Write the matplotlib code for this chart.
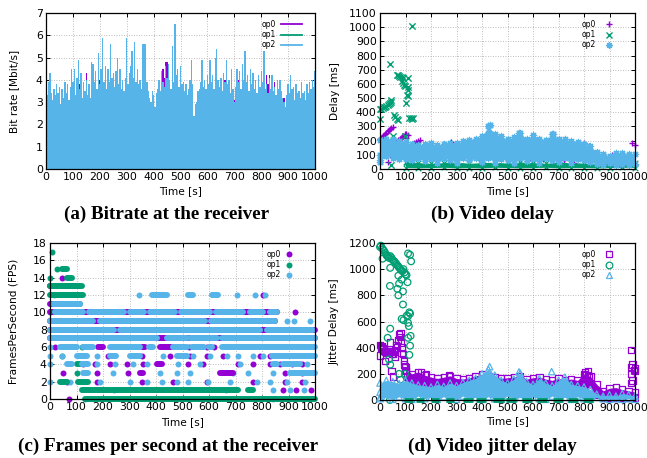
import numpy as np
import matplotlib.pyplot as plt
from matplotlib.lines import Line2D

C0, C1, C2 = '#9400D3', '#009E73', '#56B4E9'
GRID = '#a8a8a8'

# ---------------- (a) bit rate, one sample every 5 s ----------------
rate_step = 5
rate_op2 = [4.0, 3.3, 3.9, 4.3, 3.4, 3.1, 3.6, 3.3, 3.8, 3.4,
            3.7, 2.9, 3.6, 3.2, 3.9, 3.4, 3.8, 3.1, 3.7, 4.5,
            3.9, 4.5, 3.3, 4.1, 4.9, 3.6, 4.3, 3.2, 3.9, 3.5,
            4.0, 3.3, 3.8, 3.2, 4.8, 4.7, 3.9, 4.4, 3.6, 5.2,
            3.8, 4.5, 5.9, 3.9, 4.6, 3.6, 4.5, 3.9, 5.6, 4.1,
            4.3, 3.7, 4.4, 5.0, 3.8, 4.5, 3.6, 4.0, 3.5, 4.1,
            5.9, 3.8, 4.3, 4.6, 5.3, 4.1, 5.7, 3.9, 4.5, 3.8,
            4.0, 3.6, 5.6, 5.6, 5.6, 3.9, 3.5, 3.2, 3.0, 3.5,
            3.3, 2.8, 3.4, 3.6, 4.0, 3.5, 4.4, 3.9, 3.7, 4.6,
            4.1, 4.7, 4.0, 3.6, 5.5, 3.9, 6.5, 4.2, 4.5, 3.7,
            4.6, 3.8, 3.9, 3.5, 3.8, 3.3, 3.6, 4.0, 4.9, 3.8,
            2.4, 2.9, 3.0, 3.5, 3.6, 3.9, 4.9, 3.7, 4.0, 3.6,
            4.2, 3.8, 4.9, 3.9, 4.2, 3.6, 5.0, 5.4, 4.0, 3.7,
            4.1, 3.5, 4.3, 3.9, 4.9, 3.8, 4.0, 3.4, 4.5, 3.6,
            3.0, 3.7, 4.5, 3.9, 4.4, 3.6, 4.7, 4.0, 5.3, 3.9,
            4.2, 3.5, 4.5, 3.8, 4.3, 3.6, 4.0, 3.4, 4.2, 3.7,
            4.4, 3.9, 5.3, 3.6, 3.8, 3.4, 4.1, 3.6, 4.2, 3.5,
            3.7, 3.3, 4.0, 3.6, 4.0, 3.5, 3.2, 3.0, 2.8, 3.3,
            3.8, 3.4, 4.2, 3.6, 3.7, 3.1, 3.8, 3.4, 3.5, 3.2,
            3.9, 3.4, 3.5, 3.1, 3.8, 3.4, 3.9, 3.6, 4.0, 3.7,
            4.4]
rate_op0 = [3.5, 3.2, 3.6, 3.9, 3.3, 3.0, 3.4, 3.2, 3.5, 3.3,
            3.4, 2.9, 3.5, 3.1, 3.9, 3.3, 3.6, 3.0, 3.5, 4.0,
            3.6, 4.0, 3.2, 3.9, 4.2, 3.8, 4.0, 3.2, 3.7, 3.4,
            4.3, 3.2, 3.5, 3.1, 4.2, 4.0, 3.7, 4.0, 3.5, 4.5,
            4.0, 4.0, 4.8, 3.8, 4.2, 3.4, 4.0, 3.7, 4.9, 3.9,
            4.0, 3.5, 4.1, 4.4, 3.6, 4.2, 3.4, 3.8, 3.3, 3.9,
            5.0, 3.6, 4.0, 4.2, 4.6, 4.0, 4.8, 3.7, 4.2, 3.6,
            3.8, 3.4, 4.8, 4.5, 4.6, 3.7, 3.4, 3.0, 2.9, 3.3,
            3.1, 2.7, 3.2, 3.4, 3.8, 3.4, 4.1, 4.5, 4.1, 4.8,
            4.8, 4.5, 3.9, 3.4, 4.6, 3.7, 5.0, 3.9, 4.0, 3.5,
            4.2, 3.6, 3.7, 3.3, 3.6, 3.2, 3.4, 3.8, 4.3, 3.6,
            2.3, 2.7, 2.9, 3.3, 3.4, 3.7, 4.2, 3.5, 3.8, 3.4,
            3.9, 3.6, 4.3, 3.7, 4.0, 3.4, 4.3, 4.6, 3.8, 3.5,
            3.9, 3.4, 4.1, 4.0, 4.3, 3.6, 3.8, 3.3, 4.0, 3.5,
            3.1, 3.5, 4.1, 4.0, 4.0, 3.4, 4.2, 3.8, 4.5, 3.7,
            4.0, 3.3, 4.5, 3.6, 4.0, 3.4, 3.8, 3.3, 3.9, 3.5,
            4.0, 3.7, 4.5, 3.4, 4.2, 3.8, 4.2, 3.4, 4.1, 3.3,
            3.9, 3.2, 3.8, 3.4, 3.7, 3.3, 3.0, 3.2, 2.6, 2.3,
            3.5, 3.2, 3.9, 3.4, 3.5, 2.9, 3.6, 3.2, 3.3, 3.0,
            3.7, 3.2, 3.0, 2.9, 3.6, 3.2, 3.7, 3.4, 3.8, 3.5,
            4.0]
rate_op1_step = 10
rate_op1 = [3.0, 2.8, 3.1, 2.9, 3.2, 2.7, 3.0, 2.9, 3.1, 2.8,
            3.0, 3.2, 2.9, 3.1, 2.8, 3.0, 3.3, 2.9, 3.1, 3.0,
            2.9, 3.2, 3.0, 2.8, 3.1, 2.9, 3.0, 3.2, 2.9, 3.0,
            3.1, 2.8, 3.0, 3.2, 2.9, 3.1, 2.7, 2.6, 2.8, 2.9,
            2.7, 2.8, 3.0, 3.1, 2.9, 3.2, 3.0, 2.9, 3.1, 3.0,
            3.0, 2.9, 3.1, 2.8, 3.0, 2.2, 2.7, 2.9, 3.1, 3.0,
            3.0, 3.2, 2.9, 3.1, 3.0, 2.9, 3.1, 3.0, 2.8, 3.0,
            2.7, 3.0, 3.1, 2.9, 3.2, 3.0, 2.9, 3.1, 3.0, 2.9,
            3.1, 3.0, 3.2, 2.9, 3.0, 2.8, 3.0, 2.9, 2.6, 2.5,
            2.9, 3.0, 2.8, 2.9, 3.0, 2.8, 3.0, 2.9, 3.1, 3.0,
            3.2]

# ---------------- (b) video delay ----------------
delay_op0_t = [0, 5, 10, 15, 20, 25, 30, 35, 40, 45, 50,
               72, 77, 82, 87, 92, 97, 102, 108,
               118, 125, 132, 140, 148, 155,
               190, 250, 280, 300, 340, 390, 400, 410, 420, 440,
               450, 455, 480, 560, 580, 610, 620, 640, 655, 690,
               700, 710, 720, 760, 800, 820, 880, 910, 990, 1000,
               30, 40, 100]
delay_op0_v = [215, 222, 230, 238, 245, 255, 265, 275, 285, 292, 298,
               205, 212, 220, 228, 236, 244, 250, 240,
               160, 172, 182, 192, 200, 207,
               150, 165, 190, 170, 110, 80, 120, 90, 110, 170,
               140, 60, 100, 110, 60, 125, 80, 70, 85, 80,
               80, 110, 60, 40, 180, 160, 70, 100, 180, 170,
               50, 100, 220]
delay_op1_t = [0, 5, 10, 15, 20, 25, 30, 35, 40, 45,
               0, 40, 42, 55, 60, 65, 72, 65, 70, 75, 80, 85, 92,
               85, 90, 95, 98, 111, 111, 108, 100, 124, 115, 120, 125, 131,
               52, 98, 43, 105, 105, 110]
delay_op1_v = [420, 425, 430, 435, 440, 445, 450, 455, 462, 470,
               350, 740, 490, 383, 370, 355, 348, 665, 660, 655, 650, 648, 642,
               618, 605, 595, 583, 642, 560, 513, 465, 1006, 362, 358, 355, 362,
               230, 235, 31, 47, 520, 580]
delay_op1_base_t = [100, 150, 200, 250, 300, 350, 400, 450, 500, 550,
                    600, 650, 700, 750, 800, 850, 900, 950, 1000]
delay_op1_base_hi = [50, 45, 40, 45, 50, 40, 45, 48, 42, 50,
                     45, 40, 48, 45, 42, 40, 45, 40, 45]
delay_op1_base_lo = [10, 8, 10, 12, 8, 10, 8, 12, 10, 8,
                     10, 12, 8, 10, 10, 8, 10, 12, 10]
delay_op2_t = list(range(0, 1001, 25))
delay_op2_hi = [205, 215, 210, 200, 190, 175, 170, 175, 180, 170,
                175, 180, 185, 195, 205, 215, 230, 300, 250, 230,
                210, 225, 255, 210, 240, 215, 205, 245, 215, 210,
                200, 190, 175, 160, 120, 105, 95, 110, 110, 105,
                105]
delay_op2_lo = [60, 90, 80, 70, 70, 60, 75, 55, 70, 40,
                75, 65, 45, 80, 60, 75, 50, 80, 45, 70,
                65, 40, 75, 55, 70, 40, 75, 60, 50, 75,
                45, 70, 60, 50, 35, 30, 40, 30, 35, 30,
                35]
delay_op2_extra_t = [430, 545, 680, 0, 0]
delay_op2_extra_v = [310, 255, 245, 100, 50]

# ---------------- (c) frames per second: (fps, start, end) runs ----------------
fps_op0 = [(14, 44, 44), (13, 0, 110), (12, 19, 100), (12, 802, 802), (11, 0, 100),
           (10, 0, 855), (10, 925, 925), (9, 0, 849), (8, 0, 1000), (7, 0, 1000),
           (6, 19, 19), (6, 182, 200), (6, 346, 360), (6, 415, 455), (6, 524, 524),
           (6, 591, 591), (6, 620, 620),
           (5, 220, 220), (5, 346, 346), (5, 453, 453), (5, 528, 528), (5, 591, 591),
           (5, 654, 654), (5, 792, 792), (5, 830, 830),
           (4, 126, 126), (4, 170, 170), (4, 226, 226), (4, 289, 289), (4, 352, 352),
           (4, 402, 421), (4, 522, 522), (4, 579, 579), (4, 711, 711), (4, 767, 767),
           (4, 830, 830), (4, 868, 868), (4, 912, 912), (4, 950, 950),
           (3, 50, 50), (3, 176, 176), (3, 296, 296), (3, 340, 352), (3, 641, 692),
           (3, 887, 887), (3, 950, 950),
           (2, 63, 63), (2, 176, 176), (2, 346, 346), (2, 465, 465), (2, 591, 591),
           (2, 767, 767), (2, 887, 887), (2, 950, 950),
           (1, 880, 880), (1, 930, 930), (1, 985, 985), (0, 72, 72)]
fps_op1 = [(17, 9, 9), (15, 25, 25), (15, 44, 63), (14, 0, 0), (14, 63, 82),
           (13, 0, 120), (12, 0, 126), (11, 57, 113), (10, 0, 0), (10, 20, 50),
           (6, 120, 120), (5, 44, 44), (4, 100, 113), (3, 100, 100),
           (2, 38, 63), (2, 107, 145), (1, 120, 711), (1, 748, 767), (0, 132, 1000)]
fps_op2 = [(12, 16, 16), (12, 337, 337), (12, 384, 440), (12, 522, 541), (12, 610, 635),
           (12, 707, 707), (12, 773, 773), (12, 811, 811),
           (11, 13, 113),
           (10, 19, 123), (10, 147, 278), (10, 302, 353), (10, 377, 472), (10, 496, 604),
           (10, 628, 730), (10, 754, 805), (10, 829, 855),
           (9, 0, 164), (9, 188, 585), (9, 609, 849), (9, 893, 893), (9, 921, 921), (9, 981, 981),
           (8, 0, 240), (8, 264, 793), (8, 817, 994),
           (7, 0, 402), (7, 440, 516), (7, 528, 629), (7, 650, 1000),
           (6, 0, 0), (6, 38, 101), (6, 126, 164), (6, 226, 340), (6, 372, 390),
           (6, 466, 516), (6, 535, 580), (6, 600, 610), (6, 648, 1000),
           (5, 0, 0), (5, 44, 44), (5, 100, 138), (5, 176, 176), (5, 226, 250), (5, 302, 340),
           (5, 428, 428), (5, 478, 516), (5, 541, 541), (5, 604, 604), (5, 667, 667),
           (5, 711, 711), (5, 767, 767), (5, 805, 805), (5, 836, 1000),
           (4, 0, 0), (4, 63, 82), (4, 120, 145), (4, 176, 176), (4, 245, 245), (4, 314, 314),
           (4, 365, 365), (4, 484, 484), (4, 566, 566), (4, 717, 717), (4, 843, 855),
           (4, 880, 943), (4, 968, 968),
           (3, 126, 145), (3, 239, 239), (3, 415, 415), (3, 478, 478), (3, 528, 528),
           (3, 692, 692), (3, 748, 748), (3, 843, 843), (3, 906, 1000),
           (2, 0, 0), (2, 75, 75), (2, 189, 189), (2, 302, 302), (2, 365, 365), (2, 421, 421),
           (2, 478, 478), (2, 522, 522), (2, 597, 597), (2, 679, 679), (2, 780, 780),
           (2, 830, 830), (2, 893, 893), (2, 962, 962),
           (1, 241, 241), (1, 664, 664), (1, 843, 843), (1, 906, 906), (1, 960, 960),
           (0, 132, 132), (0, 840, 840)]

# ---------------- (d) jitter delay ----------------
jit_op0_t = [0, 0, 3, 6, 10, 14, 18, 22, 26, 30, 34, 38, 42, 46, 50, 54, 58, 62, 66,
             70, 74, 78, 82, 86, 90, 94, 98, 102, 106, 110, 114, 20, 45, 50, 60, 80,
             85, 95, 100, 40, 160, 180, 270,
             805, 810, 815, 820, 985, 990, 985, 995, 985, 990, 985, 1000, 1000]
jit_op0_v = [340, 420, 400, 410, 395, 385, 375, 370, 365, 360, 370, 375, 365, 355, 350,
             365, 380, 420, 400, 460, 500, 480, 440, 400, 350, 300, 260, 220, 180, 140,
             110, 300, 220, 180, 330, 510, 360, 270, 250, 440, 215, 200, 190,
             210, 190, 220, 180, 380, 270, 250, 230, 200, 150, 130, 220, 240]
jit_op0_band_t = list(range(100, 1001, 25))
jit_op0_band_hi = [230, 200, 215, 190, 175, 165, 175, 185, 165, 160,
                   170, 185, 195, 185, 175, 165, 170, 175, 185, 160,
                   170, 175, 160, 150, 165, 155, 160, 150, 200, 180,
                   120, 70, 90, 95, 80, 70, 60]
jit_op0_band_lo = [60, 100, 105, 95, 100, 90, 100, 95, 105, 90,
                   100, 95, 100, 85, 100, 95, 105, 90, 100, 95,
                   100, 90, 105, 95, 100, 90, 100, 95, 100, 90,
                   40, 20, 20, 15, 20, 15, 20]
jit_op1_t = [0, 3, 8, 12, 16, 20, 24, 28, 32, 36, 40, 44, 48, 52, 56, 60, 64, 68,
             72, 76, 80, 84, 88, 92, 96, 100, 104, 10,
             110, 118, 122, 40, 108, 39, 72, 75, 68, 72, 85, 90, 90, 85, 92,
             105, 110, 115, 118, 110, 113, 120, 110, 118, 115, 40, 30, 35, 40,
             75, 80, 98, 39]
jit_op1_v = [1170, 1180, 1160, 1150, 1140, 1125, 1110, 1100, 1095, 1085, 1100, 1090,
             1075, 1065, 1060, 1050, 1040, 1030, 1020, 1010, 1000, 990, 985, 1000,
             975, 960, 955, 1080,
             1120, 1110, 1060, 1010, 900, 872, 950, 890, 850, 800, 920, 830, 730,
             620, 610, 645, 640, 670, 660, 590, 565, 490, 475, 415, 345, 545, 475,
             310, 270, 200, 155, 200, 0]
# green samples sitting on the zero line, as (start, end) stretches
jit_op1_zero = [(94, 129), (141, 173), (200, 231), (259, 290), (325, 365), (376, 416),
                (443, 486), (494, 533), (557, 596), (615, 655), (678, 718), (737, 776),
                (796, 835)]
jit_op2_t = list(range(0, 1001, 25))
jit_op2_hi = [130, 150, 140, 125, 150, 130, 115, 110, 100, 120,
              105, 130, 110, 135, 150, 165, 200, 235, 190, 150,
              130, 160, 205, 140, 120, 165, 130, 110, 150, 175,
              120, 110, 100, 80, 45, 30, 40, 30, 50, 40,
              30]
jit_op2_lo = [10, 20, 5, 25, 10, 5, 30, 10, 20, 5,
              25, 10, 5, 30, 10, 20, 5, 25, 10, 5,
              30, 10, 20, 5, 25, 10, 5, 30, 10, 20,
              5, 25, 10, 5, 20, 10, 5, 10, 5, 10,
              5]
jit_op2_extra_t = [673, 430, 545, 0, 0]
jit_op2_extra_v = [217, 255, 215, 20, 60]

# ---------------- figure ----------------
fig = plt.figure(figsize=(6.47, 4.58), dpi=100)
W, H = 647, 458


def px_axes(l, t, r, b):
    return fig.add_axes([l / W, 1 - b / H, (r - l) / W, (b - t) / H])


def style(ax, ymax, ystep, ylabel, ylab_x, xlab_y):
    ax.set_xlim(0, 1000)
    ax.set_xticks(range(0, 1001, 100))
    ax.set_ylim(0, ymax)
    ax.set_yticks(np.arange(0, ymax + 0.01, ystep))
    ax.set_axisbelow(True)
    ax.grid(True, color=GRID, linestyle=(0, (1, 2)), linewidth=0.6)
    ax.tick_params(direction='in', top=True, right=True, length=3, width=0.7,
                   labelsize=7.8, pad=2.3)
    for s in ax.spines.values():
        s.set_linewidth(0.9)
    ax.set_xlabel('Time [s]', fontsize=7.6)
    ax.set_ylabel(ylabel, fontsize=7.6)
    ax.yaxis.set_label_coords(ylab_x, 0.5)
    ax.xaxis.set_label_coords(0.5, xlab_y)


def legend(ax, handles, right, hl, htp):
    ax.legend(handles=handles, loc='upper right', bbox_to_anchor=(right, 1 - 4 / 156),
              borderaxespad=0, frameon=False, markerfirst=False, fontsize=5.5,
              labelspacing=0.15, handlelength=hl, handletextpad=htp)


def band(ax, t, lo, hi, color, marker, ms, filled):
    ax.fill_between(t, lo, hi, color=color, linewidth=0)
    for v in (lo, hi):
        if filled:
            ax.scatter(t, v, s=ms ** 2, marker=marker, color=color, linewidths=0.9, clip_on=False)
        else:
            ax.scatter(t, v, s=ms ** 2, marker=marker, facecolors='none', edgecolors=color,
                       linewidths=0.9, clip_on=False)


# (a)
ax = px_axes(46, 13, 315, 169)
ax.bar(np.arange(len(rate_op1)) * rate_op1_step, rate_op1, width=rate_op1_step, color=C1, linewidth=0)
ax.bar(np.arange(len(rate_op0)) * rate_step, rate_op0, width=rate_step, color=C0, linewidth=0)
ax.bar(np.arange(len(rate_op2)) * rate_step, rate_op2, width=rate_step, color=C2, linewidth=0)
style(ax, 7, 1, 'Bit rate [Mbit/s]', -0.10, -0.109)
legend(ax, [Line2D([], [], color=c, lw=1.3, label=l) for c, l in zip((C0, C1, C2), ('op0', 'op1', 'op2'))],
       1 - 10 / 269, 2.8, 0.65)

# (b)
ax = px_axes(380, 13, 635, 169)
ax.scatter(delay_op0_t, delay_op0_v, s=4.5 ** 2, marker='+', color=C0, linewidths=1.0, clip_on=False)
band(ax, delay_op1_base_t, delay_op1_base_lo, delay_op1_base_hi, C1, 'x', 4.0, True)
ax.scatter(delay_op1_t, delay_op1_v, s=4.5 ** 2, marker='x', color=C1, linewidths=1.0, clip_on=False)
band(ax, delay_op2_t, delay_op2_lo, delay_op2_hi, C2, (8, 2, 0), 4.5, True)
ax.scatter(delay_op2_extra_t, delay_op2_extra_v, s=4.5 ** 2, marker=(8, 2, 0), color=C2,
           linewidths=1.0, clip_on=False)
style(ax, 1100, 100, 'Delay [ms]', -0.157, -0.109)
legend(ax, [Line2D([], [], color=C0, ls='none', marker='+', ms=4.5, mew=1.0, label='op0'),
            Line2D([], [], color=C1, ls='none', marker='x', ms=4.5, mew=1.0, label='op1'),
            Line2D([], [], color=C2, ls='none', marker=(8, 2, 0), ms=4.5, mew=1.0, label='op2')],
       1 - 19 / 255, 1.0, 1.2)

# (c)
ax = px_axes(50, 243, 315, 399)
size = 4.3
for runs, col in ((fps_op0, C0), (fps_op1, C1), (fps_op2, C2)):
    r = np.array(runs, float)
    seg = r[r[:, 1] < r[:, 2]]
    dot = r[r[:, 1] == r[:, 2]]
    ax.hlines(seg[:, 0], seg[:, 1], seg[:, 2], colors=col, linewidth=size,
              capstyle='round', clip_on=False)
    ax.scatter(dot[:, 1], dot[:, 0], s=size ** 2, color=col, linewidths=0, clip_on=False)
style(ax, 18, 2, 'FramesPerSecond (FPS)', -0.117, -0.115)
legend(ax, [Line2D([], [], color=c, ls='none', marker='o', ms=size, mew=0, label=l)
            for c, l in zip((C0, C1, C2), ('op0', 'op1', 'op2'))],
       1 - 19 / 265, 1.0, 0.6)

# (d)
ax = px_axes(380, 243, 635, 400)
band(ax, jit_op0_band_t, jit_op0_band_lo, jit_op0_band_hi, C0, 's', 4.6, False)
ax.scatter(jit_op0_t, jit_op0_v, s=4.6 ** 2, marker='s', facecolors='none', edgecolors=C0,
           linewidths=0.9, clip_on=False)
ax.scatter(jit_op1_t, jit_op1_v, s=4.8 ** 2, marker='o', facecolors='none', edgecolors=C1,
           linewidths=0.9, clip_on=False)
band(ax, jit_op2_t, jit_op2_lo, jit_op2_hi, C2, '^', 4.6, False)
ax.scatter(jit_op2_extra_t, jit_op2_extra_v, s=4.6 ** 2, marker='^', facecolors='none',
           edgecolors=C2, linewidths=0.9, clip_on=False)
z = np.array(jit_op1_zero, float)
ax.hlines(np.zeros(len(z)), z[:, 0], z[:, 1], colors=C1, linewidth=3.5, clip_on=False)
style(ax, 1200, 200, 'Jitter Delay [ms]', -0.157, -0.102)
legend(ax, [Line2D([], [], color=C0, ls='none', marker='s', ms=4.6, mfc='none', mew=0.9, label='op0'),
            Line2D([], [], color=C1, ls='none', marker='o', ms=4.8, mfc='none', mew=0.9, label='op1'),
            Line2D([], [], color=C2, ls='none', marker='^', ms=4.6, mfc='none', mew=0.9, label='op2')],
       1 - 19 / 255, 1.0, 1.2)

# captions
cap = dict(ha='center', va='center', family='Liberation Serif', weight='bold', size=13.8)
fig.text(167 / W, 1 - 214 / H, '(a) Bitrate at the receiver', **cap)
fig.text(492 / W, 1 - 214 / H, '(b) Video delay', **cap)
fig.text(168 / W, 1 - 446 / H, '(c) Frames per second at the receiver', **cap)
fig.text(492 / W, 1 - 446 / H, '(d) Video jitter delay', **cap)

fig.savefig('out.png', dpi=100)
